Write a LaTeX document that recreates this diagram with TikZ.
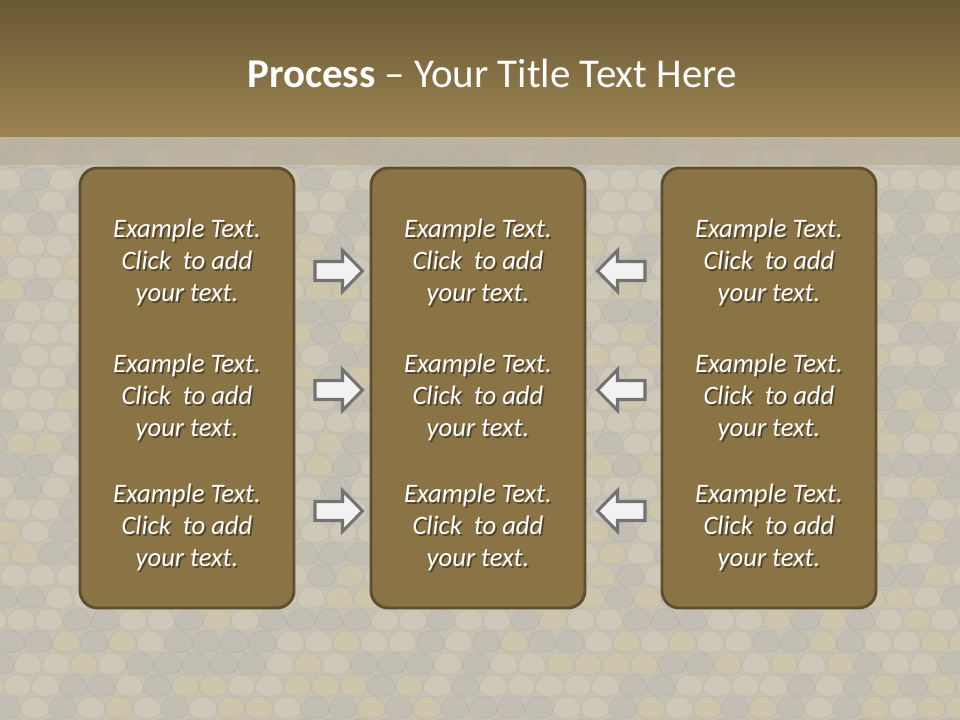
\documentclass[tikz,border=0pt]{standalone}
\usepackage{fontspec}
\setmainfont{Carlito}
\usetikzlibrary{calc}
\definecolor{bgcol}{HTML}{C7C2B6}
\definecolor{scaleA}{HTML}{CEC8B8}
\definecolor{scaleB}{HTML}{C3BEB3}
\definecolor{scaleC}{HTML}{CDC5AC}
\definecolor{stripcol}{HTML}{B8AE9B}
\definecolor{toptop}{HTML}{6A5835}
\definecolor{topbot}{HTML}{9B8451}
\definecolor{boxfill}{HTML}{8A7446}
\definecolor{boxline}{HTML}{5E4F30}
\definecolor{arrline}{HTML}{737373}
\definecolor{arrfill}{HTML}{F2F2F2}
\tikzset{
  panel/.style={draw=boxline, line width=2.2pt, fill=boxfill, rounded corners=13pt,
    minimum width=160.5pt, minimum height=330pt, inner sep=0pt},
  bodytext/.style={text=white, align=center, font=\fontsize{20}{24}\selectfont\itshape, inner sep=0pt},
  shadowtext/.style={bodytext, text=black, opacity=0.4},
  arrowsty/.style={draw=arrline, fill=arrfill, line width=2.3pt, line join=miter},
  blockarrow/.pic={\path[arrowsty] (-23.5,-9.5) -- (4,-9.5) -- (4,-20.5) -- (24,0) -- (4,20.5) -- (4,9.5) -- (-23.5,9.5) -- cycle;},
}
\newcommand{\exampletext}{Example Text.\\Click\ \ to add\\your text.}
\begin{document}
\begin{tikzpicture}[x=0.75pt, y=-0.75pt]
\useasboundingbox (0,0) rectangle (960,720);
% background with faint scale texture
\fill[bgcol] (0,0) rectangle (960,720);
\pgfmathsetseed{7}
\begin{scope}
\clip (0,137) rectangle (960,720);
\foreach \j in {0,...,27}{
  \foreach \i in {-4,...,36}{
    \pgfmathsetmacro{\xx}{\i*28 + mod(\j,2)*14 - 28 + 0.5*\j*7}
    \pgfmathsetmacro{\yy}{137 + \j*22}
    \pgfmathsetmacro{\rr}{rnd}
    \pgfmathsetmacro{\tone}{\rr < 0.4 ? 1 : (\rr < 0.75 ? 2 : 3)}
    \ifnum\tone=1 \def\sc{scaleA}\fi
    \ifnum\tone=2 \def\sc{scaleB}\fi
    \ifnum\tone=3 \def\sc{scaleC}\fi
    \path[fill=\sc, draw=black, draw opacity=0.035, line width=0.8pt, rounded corners=7pt]
      (\xx-14,\yy-7) -- (\xx,\yy-15) -- (\xx+14,\yy-7) -- (\xx+14,\yy+9) -- (\xx-14,\yy+9) -- cycle;
  }
}
\end{scope}
\shade[top color=toptop, bottom color=topbot] (0,0) rectangle (960,137);
\fill[stripcol, opacity=0.75] (0,137) rectangle (960,165);
% title
\node[text=white, font=\fontsize{30.7}{36}\selectfont, anchor=base] (title) at (492,88)
  {\textbf{Process} – Your Title Text Here};
% panels
\node[panel] (p1) at (187,388) {};
\node[panel] (p2) at (478,388) {};
\node[panel] (p3) at (769,388) {};
% texts with soft shadow
\foreach \px/\pn in {187/1, 478/2, 769/3}{
  \foreach \py/\r in {262/a, 397/b, 527/c}{
    \node[shadowtext] (s\pn\r) at ($(\px,\py)+(1.8,2.2)$) {\exampletext};
    \node[bodytext] (t\pn\r) at (\px,\py) {\exampletext};
  }
}
% arrows
\foreach \ay/\r in {271/a, 390/b, 511/c}{
  \pic (ra\r) at (338.5,\ay) {blockarrow};
  \pic[xscale=-1] (la\r) at (621.5,\ay) {blockarrow};
}
\end{tikzpicture}
\end{document}
